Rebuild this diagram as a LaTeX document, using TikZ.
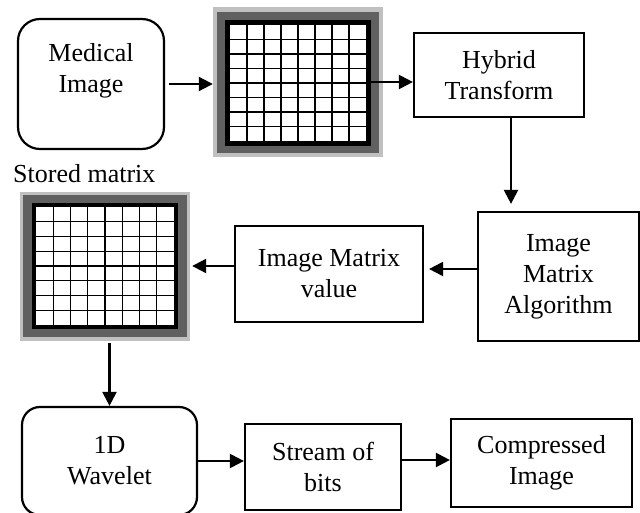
\documentclass[tikz,border=0pt]{standalone}
\usepackage{fontspec}
\setmainfont{Liberation Serif}
\usetikzlibrary{arrows.meta,calc}
\definecolor{lgray}{RGB}{192,192,192}
\definecolor{dgray}{RGB}{96,96,96}
\begin{document}
\begin{tikzpicture}[x=1pt,y=-1pt,
  every node/.style={font=\fontsize{26}{31}\selectfont},
  box/.style={draw, line width=2.2pt, inner sep=0pt, align=center},
  rbox/.style={box, rounded corners=20pt},
  arr/.style={line width=2.2pt, -{Triangle[length=14pt,width=14pt]}},
  gridline/.style={line width=1.2pt},
  frame/.style={fill=lgray, inner sep=0pt, minimum width=170pt}]
\useasboundingbox (0,0) rectangle (640,513);

% matrix 1
\node[frame, minimum height=150pt] (m1) at (298,82) {};
\fill[dgray] (217,12) rectangle (379,153);
\fill[black] (225,20) rectangle (371,146);
\fill[white] (230,25) rectangle (366,141);
\foreach \i in {1,...,7} {
  \draw[gridline] ({230+17*\i},25) -- ({230+17*\i},141);
  \draw[gridline] (230,{25+14.5*\i}) -- (366,{25+14.5*\i});
}

% matrix 2
\node[frame, minimum height=149pt] (m2) at (105,266.5) {};
\fill[dgray] (23,195) rectangle (187,337);
\fill[black] (32,203) rectangle (178,329);
\fill[white] (36,207) rectangle (174,325);
\foreach \i in {1,...,7} {
  \draw[gridline] ({36+17.25*\i},207) -- ({36+17.25*\i},325);
  \draw[gridline] (36,{207+14.75*\i}) -- (174,{207+14.75*\i});
}
\node[anchor=base west, inner sep=0pt] (lbl) at (13,183) {Stored matrix};

% boxes
\node[rbox, rounded corners=22pt, minimum width=146pt, minimum height=130pt] (med) at (91,84) {};
\node[align=center, inner sep=0pt] (medt) at (91,71) {Medical\\Image};
\node[box, minimum width=170pt, minimum height=84pt] (hyb) at (499,75) {Hybrid\\Transform};
\node[box, minimum width=161pt, minimum height=129pt] (alg) at (558.5,276.5) {Image\\Matrix\\Algorithm};
\node[box, minimum width=188pt, minimum height=96pt] (val) at (329,274) {Image Matrix\\value};
\node[rbox, rounded corners=18pt, minimum width=175pt, minimum height=108pt] (wav) at (109.5,461) {1D\\Wavelet};
\node[box, minimum width=156pt, minimum height=86pt] (str) at (323,467) {Stream of\\bits};
\node[box, minimum width=181pt, minimum height=88pt] (cmp) at (541.5,463) {Compressed\\Image};

% connectors
\draw[arr] ([xshift=4pt]med.east) -- (med.east -| m1.west);
\draw[arr] ([xshift=-12pt]m1.east) -- (m1.east -| hyb.west);
\draw[arr, shorten >=7pt] ([xshift=12pt]hyb.south) -- ([xshift=12pt]hyb.south |- alg.north);
\draw[arr, shorten >=5pt] ([shift={(0,-7.5)}]alg.west) -- ([shift={(0,-7.5)}]alg.west -| val.east);
\draw[arr, shorten >=2pt] ([shift={(0,-8)}]val.west) -- ([shift={(0,-8)}]val.west -| m2.east);
\draw[arr] ([yshift=-2pt]wav.north |- m2.south) -- (wav.north);
\draw[arr] (wav.east) -- (wav.east -| str.west);
\draw[arr] ([shift={(0,-7)}]str.east) -- ([shift={(0,-7)}]str.east -| cmp.west);
\end{tikzpicture}
\end{document}
